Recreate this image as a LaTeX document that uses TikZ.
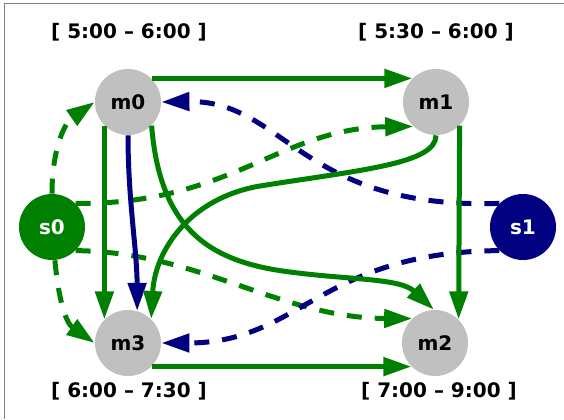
\documentclass[tikz,border=0pt]{standalone}
\usepackage{fontspec}
\setmainfont{DejaVu Sans}
\usetikzlibrary{arrows.meta}
\definecolor{nodegray}{RGB}{192, 192, 192}
\definecolor{flowgreen}{RGB}{0, 128, 0}
\definecolor{flowblue}{RGB}{0, 0, 128}

\begin{document}
\begin{tikzpicture}[x=0.5pt, y=0.5pt, font=\bfseries,
        tasknode/.style={circle, fill=nodegray, minimum size=33pt, inner sep=0pt},
        greennode/.style={circle, fill=flowgreen, text=white, minimum size=33pt, inner sep=0pt},
        bluenode/.style={circle, fill=flowblue, text=white, minimum size=33pt, inner sep=0pt},
        gline/.style={draw=flowgreen, line width=2.5pt, -{Triangle[length=14pt, width=9pt]}},
        bline/.style={draw=flowblue, line width=2.5pt, -{Triangle[length=14pt, width=9pt]}},
        gdash/.style={gline, dash pattern=on 7.5pt off 6.5pt},
        bdash/.style={bline, dash pattern=on 7.5pt off 6.5pt}]
        \useasboundingbox (0,0) rectangle (564,419);
        % 枠（左と上の辺のみ）
        \draw[gray, line width=0.75pt] (4.5,0) -- (4.5,415.5) -- (564,415.5);
        % ノード
        \node[tasknode] (m0) at (128, 317) {m0};
        \node[tasknode] (m1) at (436, 317) {m1};
        \node[tasknode] (m3) at (128, 76) {m3};
        \node[tasknode] (m2) at (435, 76) {m2};
        \node[greennode] (s0) at (52, 192) {s0};
        \node[bluenode] (s1) at (523, 192) {s1};
        % 時間帯のラベル
        \node (t0) at (129, 387) {[ 5:00 – 6:00 ]};
        \node (t1) at (436, 387) {[ 5:30 – 6:00 ]};
        \node (t3) at (129, 28) {[ 6:00 – 7:30 ]};
        \node (t2) at (439, 28) {[ 7:00 – 9:00 ]};
        % s0 からの破線
        \draw[gdash] (s0.90) to[out=90, in=-145] (m0.180);
        \draw[gdash] (s0.-85) to[out=-85, in=145] (m3.180);
        \draw[gdash] (s0.45) .. controls (230,214) and (280,291) .. (m1.-133);
        \draw[gdash] (s0.-45) .. controls (200,167) and (280,101) .. (m2.133);
        % s1 からの破線
        \draw[bdash] (s1.135) .. controls (300,209) and (285,319) .. (m0.0);
        \draw[bdash] (s1.-135) .. controls (320,167) and (300,76) .. (m3.0);
        % 外周の実線
        \draw[gline] (m0.45) -- (m1.135);
        \draw[gline] (m1.-45) -- (m2.45);
        \draw[gline] (m0.-135) -- (m3.135);
        \draw[gline] (m3.-45) -- (m2.-135);
        % 交差する実線
        \draw[bline] (m0.-90) .. controls (128,219) and (137,169) .. (m3.74);
        \draw[gline] (m0.-45) .. controls (160,189) and (210,157) .. (290,147)
            .. controls (350,139) and (400,141) .. (m2.92);
        \draw[gline] (m1.-90) .. controls (436,255) and (360,249) .. (260,233)
            .. controls (190,221) and (155,169) .. (m3.46);
    \end{tikzpicture}
\end{document}
